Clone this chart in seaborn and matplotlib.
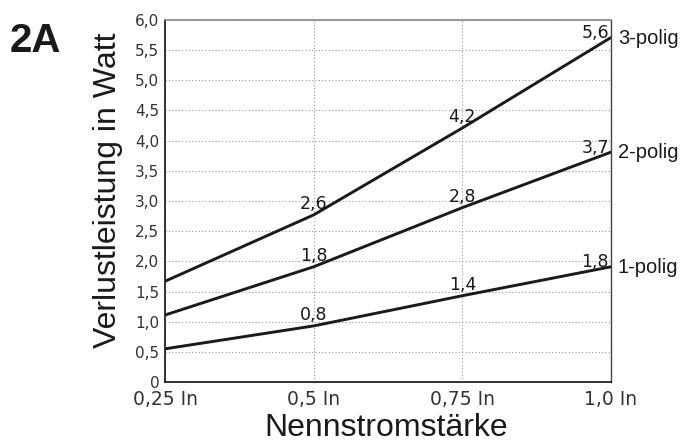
import pandas as pd
import matplotlib
matplotlib.use('Agg')
import matplotlib.pyplot as plt
import seaborn as sns

# Daten
x_werte = [0.25, 0.5, 0.75, 1.0]
x_labels = ['0,25 In', '0,5 In', '0,75 In', '1,0 In']
y_ticks = [0, 0.5, 1.0, 1.5, 2.0, 2.5, 3.0, 3.5, 4.0, 4.5, 5.0, 5.5, 6.0]
y_labels = ['0', '0,5', '1,0', '1,5', '2,0', '2,5', '3,0', '3,5', '4,0', '4,5', '5,0', '5,5', '6,0']

namen = ['1-polig', '2-polig', '3-polig']
verlust_1 = [0.55, 0.93, 1.43, 1.91]
verlust_2 = [1.11, 1.91, 2.89, 3.81]
verlust_3 = [1.67, 2.77, 4.21, 5.71]

# Beschriftungen an den Punkten 0,5 / 0,75 / 1,0
werte_1 = ['0,8', '1,4', '1,8']
werte_2 = ['1,8', '2,8', '3,7']
werte_3 = ['2,6', '4,2', '5,6']

reihen = [verlust_1, verlust_2, verlust_3]
werte = [werte_1, werte_2, werte_3]

df = pd.DataFrame({
    'In': x_werte * 3,
    'Watt': verlust_1 + verlust_2 + verlust_3,
    'Reihe': [n for n in namen for _ in x_werte],
})

sns.set_theme(style="white")
plt.rcParams['font.family'] = ['DejaVu Sans']

fig = plt.figure(figsize=(6.85, 4.42), dpi=100)
ax = fig.add_axes([0.2409, 0.1357, 0.6511, 0.8191])

sns.lineplot(data=df, x='In', y='Watt', hue='Reihe',
             palette=['#1a1a1a'] * 3, linewidth=2.1, legend=False, ax=ax)

ax.set_xlim(0.25, 1.0)
ax.set_ylim(0, 6.0)
ax.set_xticks(x_werte)
ax.set_xticklabels(x_labels, fontsize=13.5, color='#333333')
ax.set_yticks(y_ticks)
ax.set_yticklabels(y_labels, fontsize=11, color='#333333')
ax.tick_params(axis='both', length=0)
ax.tick_params(axis='y', pad=4)
ax.tick_params(axis='x', pad=5.5)
ax.set_xlabel('')
ax.set_ylabel('')

ax.grid(True, linestyle=(0, (1, 2)), color='#999999', linewidth=0.8)

for s in ['left', 'bottom']:
    ax.spines[s].set_color('#222222')
    ax.spines[s].set_linewidth(1.3)
ax.spines['top'].set_color('#888888')
ax.spines['top'].set_linewidth(1.2)
ax.spines['right'].set_color('#444444')
ax.spines['right'].set_linewidth(1.0)

# Wertebeschriftungen
for reihe, w in zip(reihen, werte):
    for xv, yv, txt in zip(x_werte[1:], reihe[1:], w):
        if xv == 1.0:
            ax.annotate(txt, xy=(xv, yv), xytext=(-1.5, -0.5),
                        textcoords='offset points', ha='right', va='baseline',
                        fontsize=12.5, color='#1a1a1a', annotation_clip=False)
        else:
            ax.annotate(txt, xy=(xv, yv), xytext=(0, 4),
                        textcoords='offset points', ha='center', va='baseline',
                        fontsize=12.5, color='#1a1a1a', annotation_clip=False)

# Reihennamen rechts
for reihe, name in zip(reihen, namen):
    ax.annotate(name, xy=(1.0, reihe[-1]), xytext=(5, -4.5),
                textcoords='offset points', ha='left', va='baseline',
                fontsize=14.5, family=['Liberation Sans'], color='#1a1a1a',
                annotation_clip=False)

fig.text(0.158, 0.57, 'Verlustleistung in Watt', rotation=90, ha='center', va='center',
         fontsize=23, family=['Liberation Sans'], color='#1a1a1a')
fig.text(0.5635, 0.0135, 'Nennstromstärke', ha='center', va='baseline',
         fontsize=23, family=['Liberation Sans'], color='#1a1a1a')
fig.text(0.0146, 0.882, '2A', ha='left', va='baseline',
         fontsize=29, weight='bold', family=['Liberation Sans'], color='#1a1a1a')

fig.savefig('out.png', dpi=100)
